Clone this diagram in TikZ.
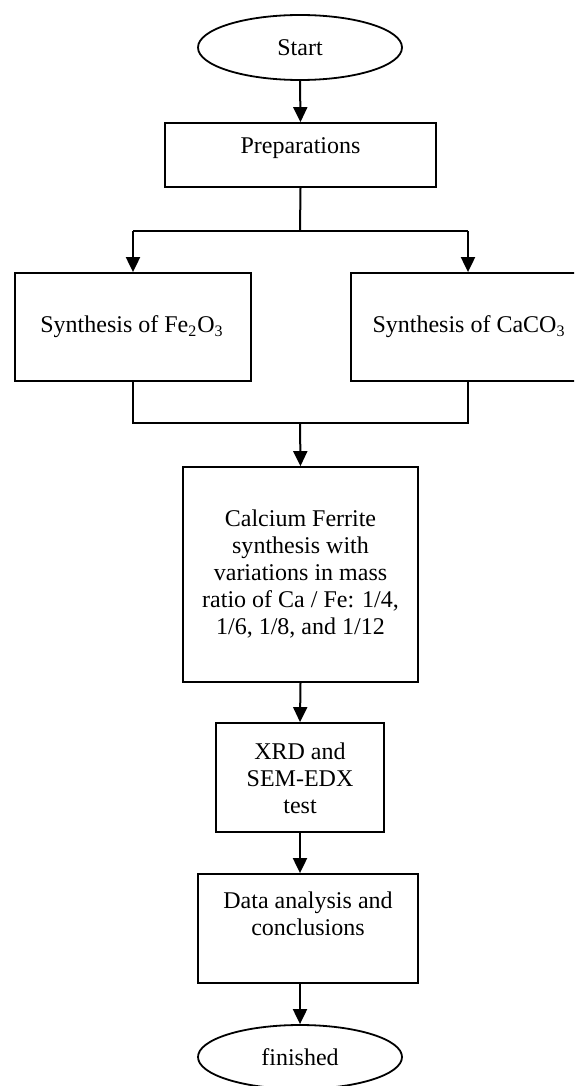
\documentclass[tikz,border=0pt]{standalone}
\usepackage{fontspec}
\setmainfont{Liberation Serif}
\usetikzlibrary{shapes.geometric,arrows.meta}
\begin{document}
\begin{tikzpicture}[x=0.5pt,y=-0.5pt,
  boxnode/.style={draw,line width=0.9pt,rectangle,inner sep=0pt},
  ovalnode/.style={draw,line width=0.9pt,ellipse,inner sep=0pt},
  txt/.style={inner sep=0pt,align=center,font=\fontsize{12}{13.4}\selectfont},
  conn/.style={line width=1pt},
  arr/.style={line width=1pt,-{Triangle[width=7pt,length=7.5pt]}}]
\useasboundingbox (0,0) rectangle (574,1086);
\clip (0,0) rectangle (574,1086);
% shapes
\node[ovalnode,minimum width=102pt,minimum height=32.5pt] (start) at (300,47.5) {};
\node[boxnode,minimum width=135.5pt,minimum height=32pt] (prep) at (300.5,155) {};
\node[boxnode,minimum width=118pt,minimum height=54pt] (fe) at (133,327) {};
\node[boxnode,minimum width=117pt,minimum height=54pt] (ca) at (468,327) {};
\node[boxnode,minimum width=117.5pt,minimum height=107.5pt] (big) at (300.5,574.5) {};
\node[boxnode,minimum width=84pt,minimum height=54.5pt] (xrd) at (300,777.5) {};
\node[boxnode,minimum width=110pt,minimum height=54.5pt] (data) at (308,928.5) {};
\node[ovalnode,minimum width=102pt,minimum height=32pt] (fin) at (300,1057) {};
% texts
\node[txt] (startT) at (300,48) {Start};
\node[txt] (prepT) at (300.5,148) {Preparations};
\node[txt] (feT) at (132,327) {Synthesis of Fe\textsubscript{2}O\textsubscript{3}};
\node[txt] (caT) at (469,327) {Synthesis of CaCO\textsubscript{3}};
\node[txt] (bigT) at (300.5,574) {Calcium Ferrite\\synthesis with\\variations in mass\\ratio of Ca / Fe: 1/4,\\1/6, 1/8, and 1/12};
\node[txt] (xrdT) at (300,778) {XRD and\\SEM-EDX\\test};
\node[txt] (dataT) at (308,914) {Data analysis and\\conclusions};
\node[txt] (finT) at (300,1057) {finished};
% junction coordinates
\coordinate (split) at (300,231);
\coordinate (splitL) at (133,231);
\coordinate (splitR) at (468,231);
\coordinate (merge) at (300,423);
\coordinate (mergeL) at (133,423);
\coordinate (mergeR) at (468,423);
% connectors
\draw[arr] (start.south) -- (prep.north);
\draw[conn] (prep.south) -- (split);
\draw[conn] (splitL) -- (splitR);
\draw[arr] (splitL) -- (fe.north);
\draw[arr] (splitR) -- (ca.north);
\draw[conn] (fe.south) -- (mergeL) -- (mergeR) -- (ca.south);
\draw[arr] (merge) -- (big.north);
\draw[arr] (big.south) -- (xrd.north);
\draw[arr] (xrd.south) -- (xrd.south |- data.north);
\draw[arr] (fin.north |- data.south) -- (fin.north);
\end{tikzpicture}
\end{document}
